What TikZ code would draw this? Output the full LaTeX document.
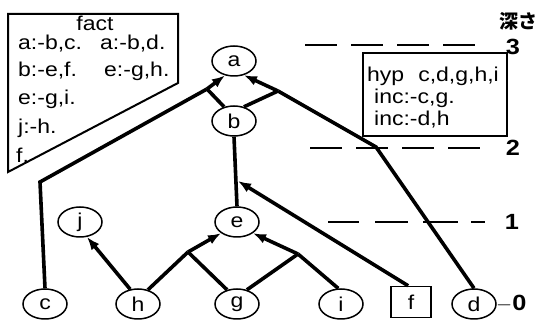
\documentclass[tikz,border=0pt]{standalone}
\usepackage{fontspec}
\setmainfont{Liberation Sans}
\newfontfamily\lab[FakeStretch=1.15]{Liberation Sans}
\newfontfamily\cjk{Noto Sans CJK JP}
\usetikzlibrary{shapes.geometric,arrows.meta}
\begin{document}
\begin{tikzpicture}[x=1pt,y=-1pt,
  every node/.style={font=\lab\fontsize{20}{22}\selectfont},
  nd/.style={draw,ellipse,line width=1.5pt,minimum width=44pt,minimum height=30pt,inner sep=0pt},
  sq/.style={draw,rectangle,line width=1.5pt,minimum width=40pt,minimum height=31pt,inner sep=0pt},
  edge/.style={line width=3.6pt},
  arr/.style={line width=3.6pt,-{Latex[length=13pt,width=10pt]}},
  lvl/.style={line width=2.2pt,dash pattern=on 32pt off 14pt},
  txt/.style={anchor=west,inner sep=0pt},
  num/.style={font=\lab\fontsize{22}{24}\selectfont\bfseries,inner sep=0pt}]
\useasboundingbox (0,0) rectangle (539,320);
% fact box
\draw[line width=2pt] (8,14) -- (178,14) -- (178,83) -- (8,172) -- cycle;
\node[inner sep=0pt] (facttitle) at (95,23) {fact};
\node[txt] (f1) at (18,44) {a:-b,c.};
\node[txt] (f2) at (100,44) {a:-b,d.};
\node[txt] (f3) at (18,71) {b:-e,f.};
\node[txt] (f4) at (104,71) {e:-g,h.};
\node[txt] (f5) at (18,99) {e:-g,i.};
\node[txt] (f6) at (18,128) {j:-h.};
\node[txt] (f7) at (16,155) {f.};
% hyp box
\draw[line width=2pt] (363,53) rectangle (507,136);
\node[txt] (h1) at (367,76) {hyp\hspace{14pt}c,d,g,h,i};
\node[txt] (h2) at (374,98) {inc:-c,g.};
\node[txt] (h3) at (374,120) {inc:-d,h};
% depth
\node[anchor=east,inner sep=0pt,font=\cjk\fontsize{19}{21}\selectfont\bfseries] (depth) at (538,21) {深さ};
\node[num] (n3) at (513,47) {3};
\node[num] (n2) at (513,148) {2};
\node[num] (n1) at (512,222) {1};
\node[num,anchor=west] (n0) at (496,304) {$-$0};
\coordinate (l3a) at (305,45); \coordinate (l3b) at (485,45);
\coordinate (l2a) at (310,148); \coordinate (l2b) at (485,148);
\coordinate (l1a) at (328,222); \coordinate (l1b) at (488,222);
\draw[lvl] (l3a) -- (l3b);
\draw[lvl] (l2a) -- (l2b);
\draw[lvl,dash pattern=on 31pt off 16pt on 33pt off 15pt on 35pt off 13pt on 14pt off 30pt] (l1a) -- (l1b);
% nodes
\node[nd] (a) at (234,61) {a};
\node[nd] (b) at (234,121) {b};
\node[nd] (e) at (237,222) {e};
\node[nd] (j) at (80,222) {j};
\node[nd] (c) at (45,304) {c};
\node[nd] (h) at (138,304) {h};
\node[nd] (g) at (237,304) {g};
\node[nd] (i) at (341,304) {i};
\node[sq] (f) at (411,302) {f};
\node[nd] (d) at (474,304) {d};
% junctions
\coordinate (cc) at (40,182);
\coordinate (jaL) at (207,89);
\coordinate (dc) at (376,147);
\coordinate (jaR) at (278,91);
\coordinate (jbe) at (238,181);
\coordinate (jeL) at (188,252);
\coordinate (jeR) at (298,254);
% edges
\draw[edge,line join=miter] (c.north) -- (cc) -- (jaL);
\draw[edge] (b.125) -- (jaL);
\draw[arr] (jaL) -- (a.238);
\draw[edge] (d.north) -- (dc) -- (jaR);
\draw[edge] (b.55) -- (jaR);
\draw[arr] (jaR) -- (a.-55);
\draw[edge] (e.north) -- (b.south);
\draw[arr] (f.100) -- (jbe);
\draw[edge] (h.55) -- (jeL);
\draw[edge] (g.125) -- (jeL);
\draw[arr] (jeL) -- (e.215);
\draw[edge] (i.100) -- (jeR);
\draw[edge] (g.55) -- (jeR);
\draw[arr] (jeR) -- (e.-35);
\draw[arr] (h.118) -- (j.-65);
\end{tikzpicture}
\end{document}
